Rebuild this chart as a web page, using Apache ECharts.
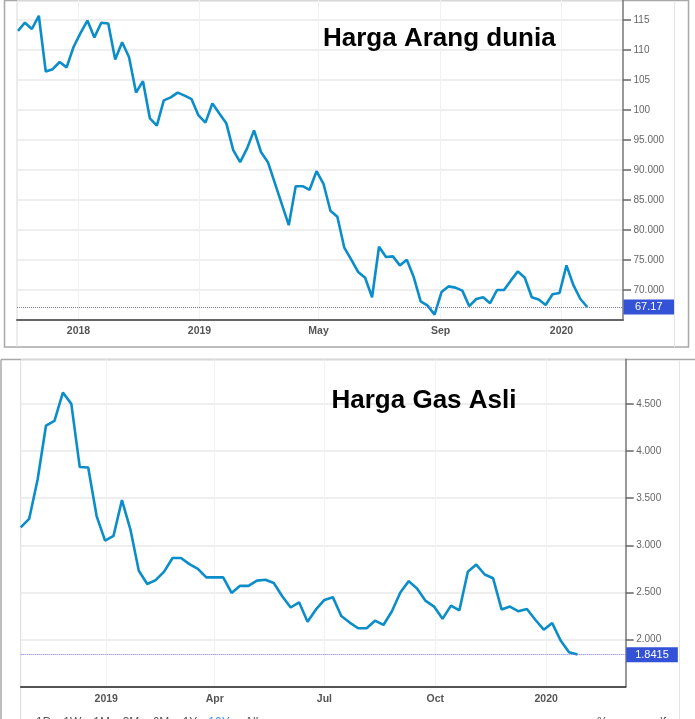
<!DOCTYPE html>
<html>
<head>
<meta charset="utf-8">
<script src="https://cdn.jsdelivr.net/npm/echarts@6/dist/echarts.min.js"></script>
<style>
html, body { margin: 0; padding: 0; background: #fff; }
#chart { width: 695px; height: 719px; }
</style>
</head>
<body>
<div id="chart"></div>
<script>
// weekly closes, coal (top) and natural gas (bottom)
var coalStart = '2018-07-02';
var coalPrice = [113.2, 114.55, 113.5, 115.7, 106.4, 106.8, 108.0, 107.1, 110.5, 112.8,
  114.9, 112.1, 114.55, 114.4, 108.4, 111.3, 108.8, 102.9, 104.8, 98.6,
  97.4, 101.6, 102.1, 102.9, 102.4, 101.8, 99.1, 97.9, 101.1, 99.4,
  97.8, 93.3, 91.3, 93.6, 96.6, 93.0, 91.3, 87.8, 84.3, 80.8,
  87.3, 87.3, 86.7, 89.8, 87.7, 83.2, 82.2, 77.05, 75.05, 73.0,
  72.05, 68.8, 77.2, 75.5, 75.6, 74.1, 75.05, 72.15, 68.1, 67.4,
  65.9, 69.65, 70.6, 70.4, 69.9, 67.3, 68.5, 68.8, 67.8, 70.0,
  70.0, 71.6, 73.1, 72.05, 68.8, 68.4, 67.5, 69.3, 69.5, 74.1,
  70.8, 68.5, 67.17];
var coalLast = 67.17;

var gasStart = '2018-10-22';
var gasPrice = [3.19, 3.28, 3.695, 4.27, 4.32, 4.62, 4.50, 3.83, 3.825, 3.31,
  3.05, 3.10, 3.48, 3.17, 2.73, 2.59, 2.63, 2.72, 2.865, 2.865,
  2.80, 2.75, 2.66, 2.66, 2.66, 2.495, 2.57, 2.57, 2.625, 2.635,
  2.60, 2.46, 2.34, 2.395, 2.19, 2.32, 2.42, 2.45, 2.25, 2.18,
  2.12, 2.12, 2.20, 2.155, 2.30, 2.50, 2.62, 2.54, 2.41, 2.35,
  2.22, 2.36, 2.31, 2.72, 2.795, 2.69, 2.65, 2.32, 2.35, 2.30,
  2.325, 2.21, 2.105, 2.175, 1.99, 1.865, 1.8415];
var gasLast = 1.8415;

var coalTickDates = ['2018-09-01', '2019-01-01', '2019-05-01', '2019-09-01', '2020-01-01'];
var coalTickLabels = ['2018', '2019', 'May', 'Sep', '2020'];
var gasTickDates = ['2019-01-01', '2019-04-01', '2019-07-01', '2019-10-01', '2020-01-01'];
var gasTickLabels = ['2019', 'Apr', 'Jul', 'Oct', '2020'];

var rangeButtons = ['1D', '1W', '1M', '3M', '6M', '1Y', '10Y', 'All'];

var FONT = '"Liberation Sans", Arial, sans-serif';
var LINE = '#0a8dc9';
var DAY = 86400000;

function ts(d) { return Date.parse(d + 'T00:00:00Z'); }

function weekly(start, values) {
  var t0 = ts(start);
  return values.map(function (v, i) { return [t0 + i * 7 * DAY, v]; });
}

function dateLabels(dates, labels) {
  var map = {};
  dates.forEach(function (d, i) { map[ts(d)] = labels[i]; });
  return function (val) { return map[val] != null ? map[val] : ''; };
}

function priceFmt(v) {
  return v >= 100 ? String(Math.round(v)) : v.toFixed(3);
}

function xAxisOf(grid, min, max, dates, labels, lineColor, lineWidth, margin) {
  var vals = dates.map(ts);
  return {
    type: 'value', gridIndex: grid, min: ts(min), max: ts(max), scale: true,
    axisLine: { show: true, onZero: false, lineStyle: { color: lineColor, width: lineWidth } },
    axisTick: { show: false, customValues: vals },
    axisLabel: {
      customValues: vals, formatter: dateLabels(dates, labels),
      color: '#555', fontSize: 10.5, fontWeight: 'bold', fontFamily: FONT, margin: margin,
      hideOverlap: false
    },
    splitLine: { show: true, lineStyle: { color: '#eef2f4', width: 1 } }
  };
}

function yAxisOf(grid, min, max, interval, fmt) {
  return {
    type: 'value', gridIndex: grid, position: 'right', min: min, max: max, interval: interval,
    axisLine: { show: true, lineStyle: { color: '#777', width: 1.5 } },
    axisTick: { show: true, length: 8, lineStyle: { color: '#666', width: 1.5 } },
    axisLabel: {
      formatter: fmt, color: '#666', fontSize: 10, fontFamily: FONT, margin: 10.5,
      showMinLabel: false, showMaxLabel: false
    },
    splitLine: { show: true, lineStyle: { color: '#e8e8e8', width: 1.5 } }
  };
}

function lastMark(value, text, padH) {
  return {
    silent: true, symbol: 'none', animation: false,
    lineStyle: { color: '#7373ff', type: 'dotted', width: 1 },
    label: {
      position: 'end', distance: 0.5, formatter: text,
      color: '#fff', backgroundColor: '#3352d5', fontSize: 11, fontFamily: FONT,
      padding: [2, padH, 2, padH]
    },
    data: [{ yAxis: value }]
  };
}

var graphics = [
  // top panel frame
  { type: 'rect', silent: true, shape: { x: 4.5, y: 0.5, width: 684, height: 346.5 },
    style: { fill: null, stroke: '#a8a8a8', lineWidth: 1.5 } },
  { type: 'line', silent: true, shape: { x1: 17, y1: 1, x2: 17, y2: 347 },
    style: { stroke: '#d9d9d9', lineWidth: 1 } },
  { type: 'line', silent: true, shape: { x1: 674.5, y1: 1, x2: 674.5, y2: 347 },
    style: { stroke: '#e4e4e4', lineWidth: 1 } },
  // bottom panel frame
  { type: 'line', silent: true, shape: { x1: 1, y1: 359.5, x2: 695, y2: 359.5 },
    style: { stroke: '#a8a8a8', lineWidth: 1.5 } },
  { type: 'line', silent: true, shape: { x1: 1, y1: 359.5, x2: 1, y2: 719 },
    style: { stroke: '#a8a8a8', lineWidth: 1.5 } },
  { type: 'line', silent: true, shape: { x1: 20.7, y1: 360, x2: 20.7, y2: 719 },
    style: { stroke: '#d9d9d9', lineWidth: 1 } },
  { type: 'line', silent: true, shape: { x1: 679.5, y1: 360, x2: 679.5, y2: 719 },
    style: { stroke: '#e4e4e4', lineWidth: 1 } },
  // titles
  { type: 'text', silent: true, z: 100, x: 323, y: 38.5,
    style: { text: 'Harga Arang dunia', fill: '#000', font: 'bold 26px ' + FONT, verticalAlign: 'middle' } },
  { type: 'text', silent: true, z: 100, x: 331.5, y: 401,
    style: { text: 'Harga Gas Asli', fill: '#000', font: 'bold 26px ' + FONT, verticalAlign: 'middle' } }
];

var buttonX = [36, 63.3, 93.3, 122.7, 152.7, 182.7, 208.3, 245];
rangeButtons.forEach(function (b, i) {
  graphics.push({ type: 'text', silent: true, x: buttonX[i], y: 723,
    style: { text: b, fill: b === '10Y' ? '#3399ee' : '#555', font: '12px ' + FONT, verticalAlign: 'middle' } });
});
graphics.push({ type: 'text', silent: true, x: 597, y: 723,
  style: { text: '%', fill: '#555', font: '12px ' + FONT, verticalAlign: 'middle' } });
graphics.push({ type: 'text', silent: true, x: 660, y: 723,
  style: { text: 'lf', fill: '#555', font: '12px ' + FONT, verticalAlign: 'middle' } });

var chart = echarts.init(document.getElementById('chart'), null, { renderer: 'canvas' });
chart.setOption({
  animation: false,
  backgroundColor: '#fff',
  grid: [
    { left: 17, top: 0, width: 606, height: 320, outerBoundsMode: 'none' },
    { left: 20.7, top: 359.3, width: 605, height: 327.4, outerBoundsMode: 'none' }
  ],
  xAxis: [
    xAxisOf(0, '2018-07-01', '2020-03-03', coalTickDates, coalTickLabels, '#666', 2, 6),
    xAxisOf(1, '2018-10-22', '2020-03-07', gasTickDates, gasTickLabels, '#222', 1.5, 7)
  ],
  yAxis: [
    yAxisOf(0, 65, 118.33, 5, priceFmt),
    yAxisOf(1, 1.5, 4.973, 0.5, function (v) { return v.toFixed(3); })
  ],
  series: [
    {
      name: 'Coal', type: 'line', xAxisIndex: 0, yAxisIndex: 0,
      data: weekly(coalStart, coalPrice), showSymbol: false, symbol: 'none',
      lineStyle: { color: LINE, width: 2.6 }, itemStyle: { color: LINE },
      markLine: lastMark(coalLast, '67.17', 11.5)
    },
    {
      name: 'Natural gas', type: 'line', xAxisIndex: 1, yAxisIndex: 1,
      data: weekly(gasStart, gasPrice), showSymbol: false, symbol: 'none',
      lineStyle: { color: LINE, width: 2.6 }, itemStyle: { color: LINE },
      markLine: lastMark(gasLast, '1.8415', 9)
    }
  ],
  graphic: graphics
});
</script>
</body>
</html>
